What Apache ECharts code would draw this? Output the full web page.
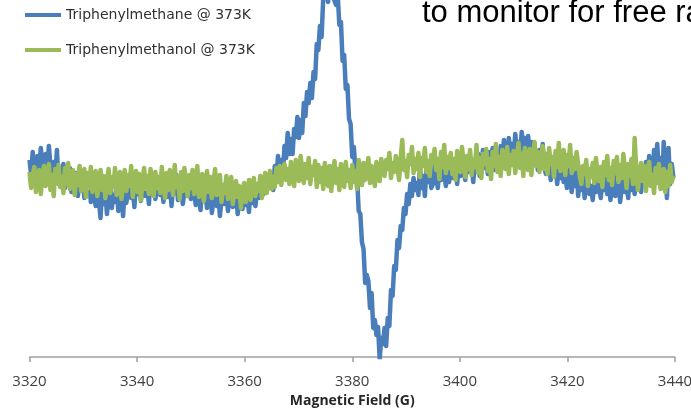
<!DOCTYPE html>
<html>
<head>
<meta charset="utf-8">
<title>EPR spectra at 373 K</title>
<script src="https://cdn.jsdelivr.net/npm/echarts@6/dist/echarts.min.js"></script>
<style>
  html, body { margin: 0; padding: 0; background: #ffffff; }
  #chart { width: 691px; height: 408px; }
</style>
</head>
<body>
<div id="chart"></div>
<script>
// Field sweep: first sample and spacing between samples (gauss)
const fieldStart = 3320;
const fieldStep = 0.3;

// Magnetic field tick marks (G)
const fieldTicks = [3320, 3340, 3360, 3380, 3400, 3420, 3440];

const seriesNames = ['Triphenylmethane @ 373K', 'Triphenylmethanol @ 373K'];

// First-derivative EPR signal, arbitrary units, one value per field sample
const triphenylmethane = [
  18, 4, 26, 10, -2, 22, 8, 30, 14, 0, 24, 6, 32, 12, -4, 16, 2, 28, -6, 9,
  -2, 14, -10, 6, -4, 10, -14, 1, -8, 5, -18, -3, -12, 2, -20, -6, -15, 0, -24, -9,
  -16, -28, -5, -22, -40, -11, -26, -14, -36, -19, -8, -30, -17, -24, -3, -33, -12, -21, -38, -9,
  -25, -14, -2, -20, -11, -29, -6, -16, 0, -23, -13, -4, -18, -8, -26, 2, -15, -5, -21, -10,
  1, -17, -7, -24, -12, 0, -19, -4, -28, -9, -15, 3, -22, -11, -6, -26, -14, 1, -18, -8,
  -21, -3, -14, -27, -9, -19, -32, -6, -23, -13, -30, -17, -8, -35, -20, -11, -28, -16, -38, -22,
  -9, -26, -15, -33, -18, -6, -29, -21, -12, -36, -24, -14, -31, -8, -27, -19, -34, -11, -25, -16,
  -28, -10, -20, -13, -4, -16, -7, -12, 0, -8, 2, -12, 12, 0, 22, 0, 18, 3, 32, 20,
  45, 24, 39, 24, 49, 41, 61, 40, 58, 45, 75, 62, 86, 75, 95, 80, 106, 99, 134, 128,
  152, 141, 179, 177, 193, 176, 209, 189, 194, 177, 173, 183, 153, 156, 117, 123, 89, 93, 59, 54,
  21, 31, 6, 0, -33, -36, -64, -71, -105, -97, -103, -130, -115, -150, -142, -157, -149, -181, -160, -166,
  -150, -168, -140, -148, -112, -118, -88, -92, -62, -70, -48, -52, -30, -36, -16, -26, -6, -18, 0, -12,
  -5, -17, 11, -10, 2, -18, 9, -4, 7, -10, -6, 12, 2, -10, 8, -2, 16, 4, -8, 10,
  -4, 14, 0, 18, 6, -6, 12, 2, 20, 8, -2, 16, 6, 22, 10, -4, 18, 8, 24, 2,
  14, 28, 10, 20, 4, 26, 12, 30, 8, 18, 24, 10, 32, 16, 38, 22, 12, 40, 26, 34,
  18, 44, 28, 36, 22, 46, 30, 40, 24, 42, 20, 36, 14, 30, 22, 8, 28, 16, 34, 10,
  4, 22, 12, -2, 18, 6, 14, -6, 10, 0, 12, -4, 6, -10, 8, 0, -14, 4, -8, 10,
  -18, -2, -12, 6, -20, -6, 2, -16, -8, -22, -4, -14, 4, -10, -20, -2, -12, 6, -16, -6,
  -22, -8, 2, -18, -12, -4, -24, -10, 0, -14, -6, -20, 4, -12, -2, -16, 8, -8, 2, -14,
  10, -4, 16, 0, 22, 6, -6, 28, 12, 34, 4, 20, -10, 36, 8, -20, 30, -6, 14, 0
];

const triphenylmethanol = [
  6, -10, 2, 11, -14, -3, 8, -16, 4, 12, -8, -1, 14, -12, 3, -18, 9, -5, 13, -9,
  1, -15, 10, -6, 15, -11, -2, 8, -17, 4, -7, 12, -13, 0, 9, -19, 5, -10, 11, -14,
  -3, 7, -18, -6, 8, -12, 2, -20, -4, 9, -15, 1, -9, 10, -17, -2, 6, -21, -5, 8,
  -13, 3, -8, 12, -19, -1, 7, -14, 4, -22, -6, 10, -11, 2, -16, 9, -3, -18, 6, -10,
  1, -15, 11, -7, -20, 5, -12, 8, -4, -17, 13, -9, 0, -21, 6, -13, 10, -5, -18, 3,
  -10, 8, -16, -2, 12, -19, -6, 4, -23, -8, 7, -14, 1, -20, -4, 9, -17, -11, 3, -24,
  -7, -15, 2, -21, -10, 1, -26, -12, -3, -19, -8, -30, -14, -5, -24, -16, -2, -22, -9, 0,
  -18, -6, -13, 2, -20, -8, 5, -15, -3, 7, -11, 1, -9, 10, -4, 12, -7, 6, 14, -2,
  9, -6, 16, 2, -8, 18, 5, -3, 22, 8, -5, 14, 0, 20, -6, 11, 3, 17, -9, 13,
  -4, 10, -11, 15, 3, -8, 12, -13, 6, 17, -5, 9, -12, 14, 1, -9, 16, -3, 8, -10,
  13, -4, 7, -11, 18, 2, -7, 15, -2, 9, 20, -5, 12, 3, -8, 16, 6, -3, 19, 8,
  2, 18, 9, 25, 0, 15, 6, 22, 11, -2, 20, 38, 8, 17, 1, 23, 14, 31, 5, 19,
  9, 25, 1, 20, 12, 30, 6, 17, 2, 23, 15, 29, 8, 19, -1, 26, 11, 33, 5, 21,
  10, 25, 4, 19, -2, 27, 12, 6, 31, 15, 1, 22, 9, 28, 3, 18, 11, 33, 5, 20,
  0, 24, 14, 29, 7, 19, -1, 26, 12, 34, 6, 21, 2, 28, 15, 9, 31, 4, 23, 13,
  27, 5, 20, 35, 10, 24, 2, 30, 16, 8, 29, 3, 22, 36, 12, 26, 6, 19, 32, 9,
  24, 4, 30, 14, 21, 1, 27, 11, 35, 7, 19, 28, 3, 23, 12, 33, 5, 20, 9, 26,
  14, 2, -6, 12, 4, 18, -8, 9, 1, 15, -5, 20, 6, -3, 11, -9, 16, 3, 22, -2,
  10, -7, 17, 5, 21, -4, 13, 0, 24, 8, -10, 14, 2, 19, -6, 40, 9, -12, 6, 15,
  -3, 12, -13, 7, 16, -8, 3, -15, 10, -5, 14, -11, 1, 9, -14, 6, -8, 13, -4, 2
];

const seriesColors = ['#4a7ebb', '#9bbb59'];

function toPoints(values) {
  return values.map((v, i) => [fieldStart + i * fieldStep, v]);
}

const chart = echarts.init(document.getElementById('chart'), null, { renderer: 'canvas' });

const option = {
  animation: false,
  backgroundColor: '#ffffff',
  grid: {
    left: 29.5,
    right: 16,
    top: 0,
    bottom: 51,
    outerBoundsMode: 'none'
  },
  legend: {
    orient: 'vertical',
    left: 20,
    top: 2,
    itemWidth: 36,
    itemHeight: 4,
    itemGap: 19,
    icon: 'rect',
    data: seriesNames,
    textStyle: {
      fontFamily: 'DejaVu Sans',
      fontSize: 14,
      color: '#303030',
      lineHeight: 16
    }
  },
  xAxis: {
    type: 'value',
    min: fieldTicks[0],
    max: fieldTicks[fieldTicks.length - 1],
    interval: fieldTicks[1] - fieldTicks[0],
    name: 'Magnetic Field (G)',
    nameLocation: 'middle',
    nameGap: 35,
    nameTextStyle: {
      fontFamily: 'Open Sans',
      fontWeight: 'bold',
      fontSize: 14,
      color: '#262626'
    },
    axisLine: { onZero: false, lineStyle: { color: '#a0a0a0', width: 1.5 } },
    axisTick: { show: true, length: 5, lineStyle: { color: '#a0a0a0', width: 1.5 } },
    splitLine: { show: false },
    axisLabel: {
      margin: 17,
      fontFamily: 'Open Sans',
      fontSize: 15,
      color: '#404040',
      formatter: v => String(v)
    }
  },
  yAxis: {
    type: 'value',
    min: -179,
    max: 178,
    show: false
  },
  series: [
    {
      name: seriesNames[0],
      type: 'line',
      data: toPoints(triphenylmethane),
      showSymbol: false,
      symbol: 'none',
      color: seriesColors[0],
      lineStyle: { color: seriesColors[0], width: 4.5, join: 'round' },
      emphasis: { disabled: true },
      z: 2
    },
    {
      name: seriesNames[1],
      type: 'line',
      data: toPoints(triphenylmethanol),
      showSymbol: false,
      symbol: 'none',
      color: seriesColors[1],
      lineStyle: { color: seriesColors[1], width: 4.5, join: 'round' },
      emphasis: { disabled: true },
      z: 3
    }
  ],
  graphic: [
    {
      type: 'text',
      left: 422,
      top: -2,
      z: 10,
      style: {
        text: 'to monitor for free radicals',
        font: '31px "Liberation Sans", Arial, sans-serif',
        fill: '#000000'
      }
    }
  ]
};

chart.setOption(option);
</script>
</body>
</html>
